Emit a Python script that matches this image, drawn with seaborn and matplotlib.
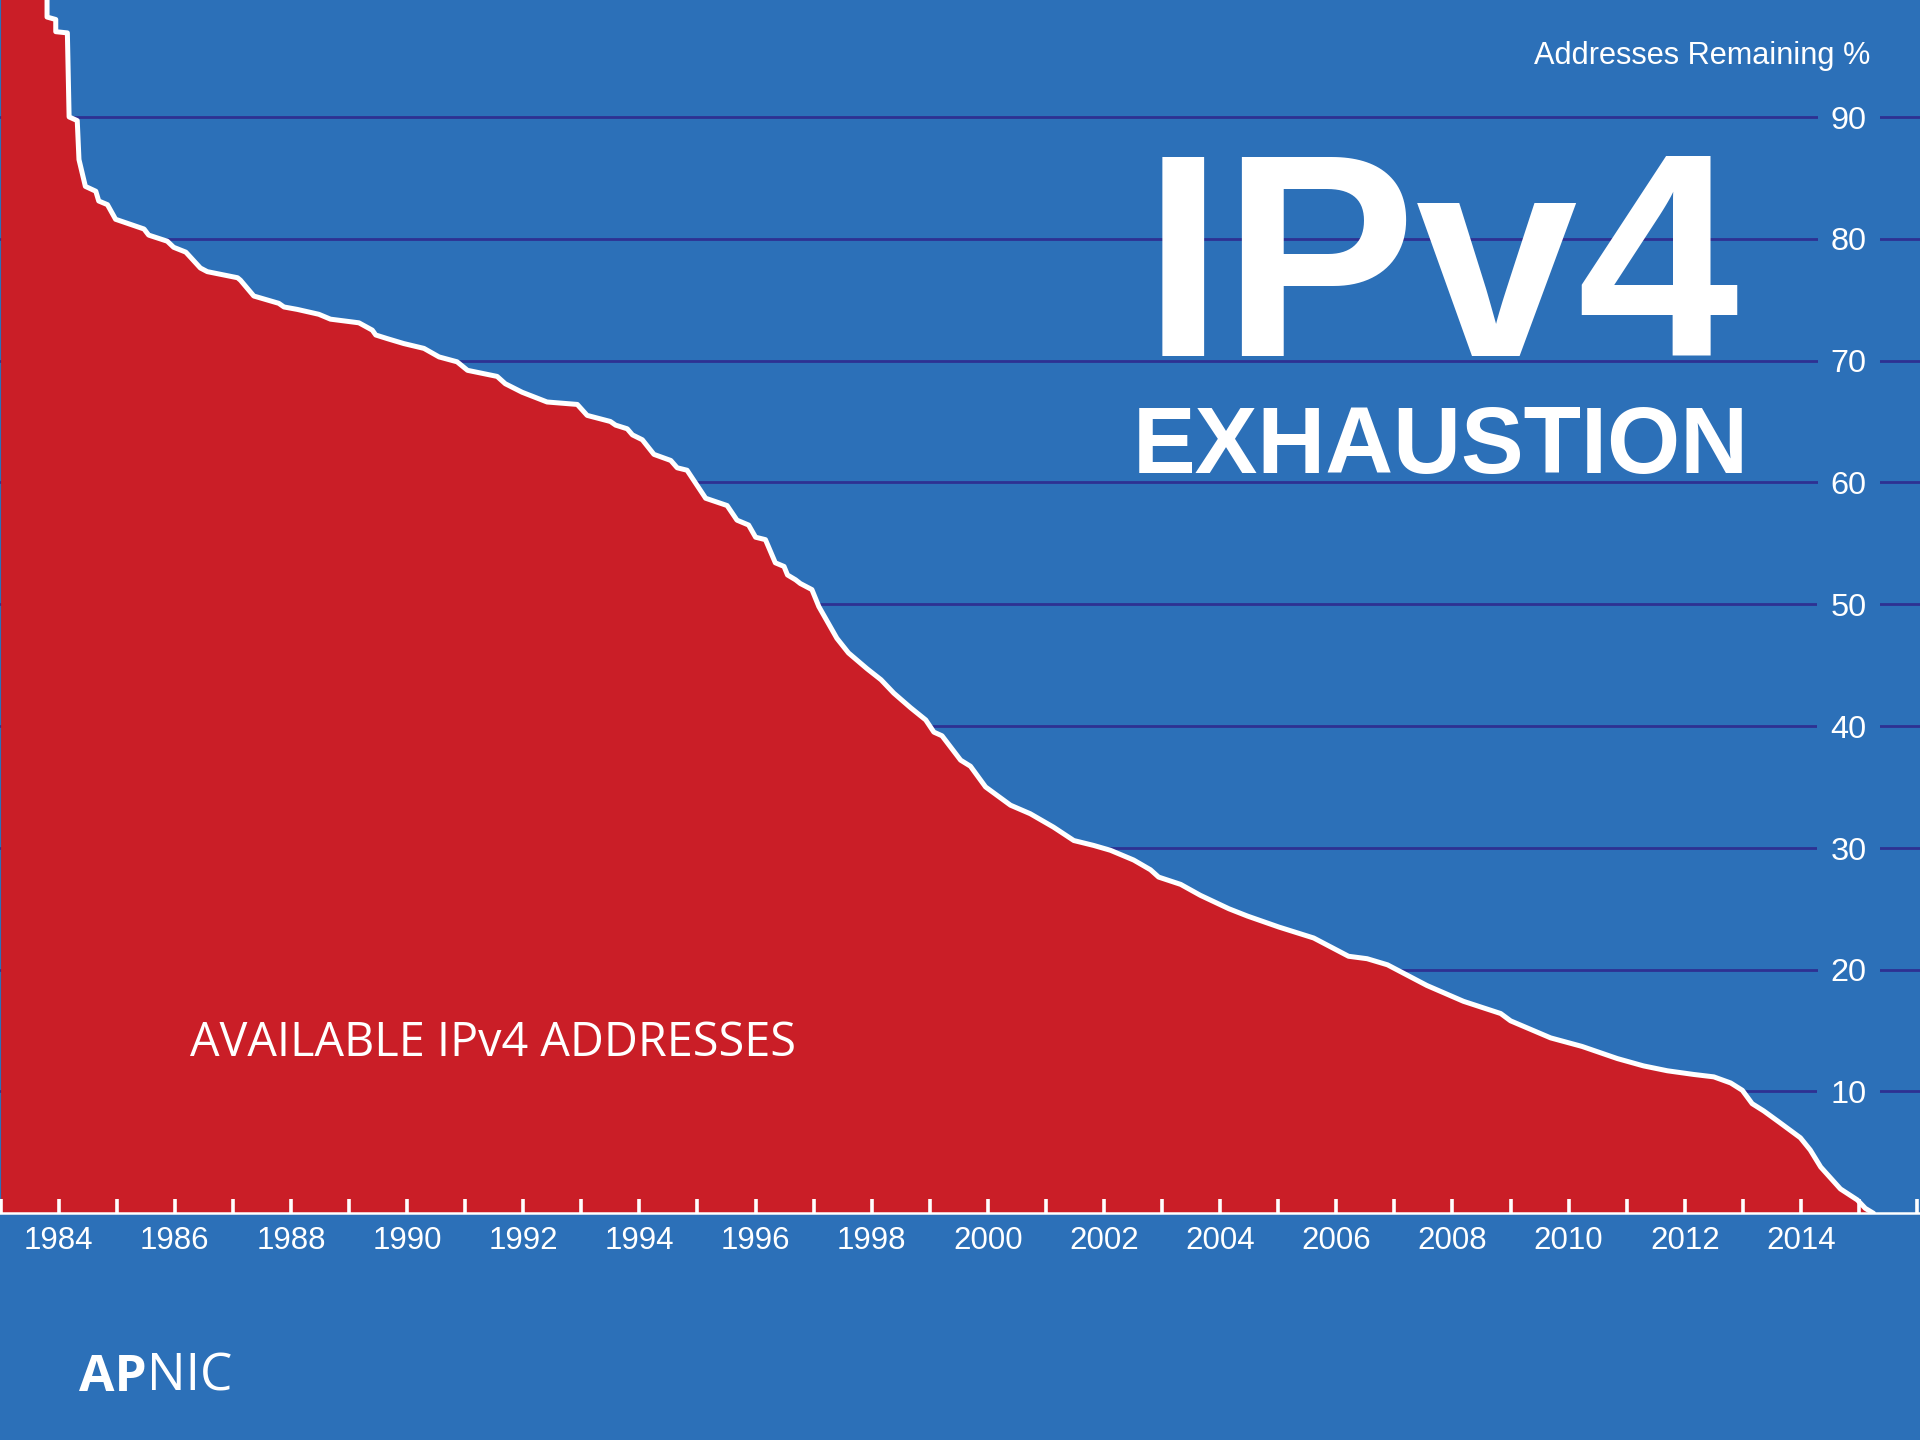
import matplotlib
matplotlib.use("Agg")
import matplotlib.pyplot as plt
import matplotlib.transforms as mtransforms
from matplotlib import font_manager as fm
from matplotlib.text import Annotation
import pandas as pd
import seaborn as sns

# ---------------- data ----------------
years = [1983.00, 1983.80, 1983.80, 1983.95, 1983.95, 1984.15, 1984.18, 1984.32, 1984.35, 1984.46,
         1984.64, 1984.69, 1984.84, 1984.98, 1985.47, 1985.55, 1985.87, 1985.98, 1986.19, 1986.44,
         1986.56, 1987.08, 1987.13, 1987.36, 1987.79, 1987.88, 1988.11, 1988.48, 1988.68, 1989.17,
         1989.40, 1989.46, 1989.66, 1989.94, 1990.29, 1990.55, 1990.86, 1991.04, 1991.55, 1991.69,
         1991.98, 1992.41, 1992.93, 1993.10, 1993.50, 1993.59, 1993.79, 1993.88, 1994.05, 1994.25,
         1994.54, 1994.65, 1994.82, 1995.14, 1995.51, 1995.68, 1995.88, 1996.00, 1996.17, 1996.34,
         1996.49, 1996.55, 1996.69, 1996.77, 1996.97, 1997.09, 1997.40, 1997.60, 1997.92, 1998.16,
         1998.38, 1998.67, 1998.93, 1999.07, 1999.21, 1999.53, 1999.70, 1999.96, 2000.39, 2000.73,
         2001.13, 2001.48, 2001.82, 2002.11, 2002.51, 2002.80, 2002.94, 2003.32, 2003.66, 2004.15,
         2004.47, 2005.01, 2005.61, 2006.21, 2006.53, 2006.88, 2007.56, 2008.19, 2008.83, 2009.00,
         2009.69, 2010.23, 2010.84, 2011.29, 2011.70, 2012.15, 2012.50, 2012.79, 2012.99, 2013.16,
         2013.36, 2013.62, 2013.99, 2014.16, 2014.34, 2014.68, 2014.97, 2015.11, 2015.25]
remaining_pct = [101.0, 101.0, 98.2, 98.0, 97.0, 96.9, 90.0, 89.7, 86.5, 84.3,
                 83.9, 83.1, 82.8, 81.6, 80.8, 80.3, 79.8, 79.3, 78.9, 77.6,
                 77.3, 76.8, 76.6, 75.3, 74.7, 74.4, 74.2, 73.8, 73.4, 73.1,
                 72.5, 72.1, 71.8, 71.4, 71.0, 70.3, 69.9, 69.2, 68.7, 68.1,
                 67.4, 66.6, 66.4, 65.5, 65.0, 64.7, 64.4, 63.9, 63.5, 62.3,
                 61.8, 61.2, 61.0, 58.7, 58.1, 56.9, 56.5, 55.5, 55.3, 53.4,
                 53.1, 52.4, 52.0, 51.7, 51.2, 49.8, 47.2, 46.0, 44.7, 43.8,
                 42.7, 41.5, 40.5, 39.5, 39.2, 37.2, 36.7, 35.0, 33.5, 32.8,
                 31.7, 30.6, 30.2, 29.8, 29.0, 28.2, 27.6, 27.0, 26.1, 25.0,
                 24.4, 23.5, 22.6, 21.1, 20.9, 20.4, 18.7, 17.4, 16.4, 15.8,
                 14.4, 13.7, 12.7, 12.1, 11.7, 11.4, 11.2, 10.7, 10.1, 9.0,
                 8.4, 7.5, 6.2, 5.2, 3.8, 2.0, 1.1, 0.4, 0.0]
y_ticks = [10, 20, 30, 40, 50, 60, 70, 80, 90]
x_tick_years = list(range(1983, 2017))
x_label_years = list(range(1984, 2015, 2))

title_main = "IPv4"
title_sub = "EXHAUSTION"
axis_title = "Addresses Remaining %"
area_label = "AVAILABLE IPv4 ADDRESSES"

# ---------------- style ----------------
BLUE = "#2C70B8"
RED = "#CA1E27"
NAVY = "#2E3192"

sns.set_theme(style="white")
installed = {f.name for f in fm.fontManager.ttflist}


def pick(*names):
    for n in names:
        if n in installed:
            return n
    return "DejaVu Sans"


ARIAL = pick("Liberation Sans", "Arial")
NARROW = pick("Liberation Sans Narrow", "Liberation Sans")
HUMAN = pick("Open Sans", "Noto Sans", "Lato")
plt.rcParams["font.family"] = [ARIAL, "DejaVu Sans"]

W, H = 1920, 1440
fig = plt.figure(figsize=(19.2, 14.4), dpi=100, facecolor=BLUE)
ax = fig.add_axes([0, (H - 1213.3) / H, 1, 1213.3 / H])
ax.set_facecolor(BLUE)

df = pd.DataFrame({"year": years, "pct": remaining_pct})

for v in y_ticks:
    ax.axhline(v, color=NAVY, lw=2.0, zorder=1)

ax.fill_between(df["year"], df["pct"], 0, color=RED, lw=0, zorder=2)
sns.lineplot(data=df, x="year", y="pct", estimator=None, sort=False,
             color="white", lw=3.6, ax=ax, zorder=4)

ax.set_xlim(1982.99, 2016.05)
ax.set_ylim(0, 99.6)
ax.set_xlabel("")
ax.set_ylabel("")
ax.grid(False)
for s in ["left", "right", "top"]:
    ax.spines[s].set_visible(False)
ax.spines["bottom"].set_color("white")
ax.spines["bottom"].set_linewidth(1.8)
ax.spines["bottom"].set_zorder(5)

ax.set_yticks([])
ax.set_xticks(x_tick_years)
ax.set_xticklabels([str(y) if y in x_label_years else "" for y in x_tick_years])
ax.tick_params(axis="x", bottom=True, direction="in", length=10, width=2.6, color="white",
               labelcolor="white", labelsize=22.5, pad=9, labelfontfamily=NARROW)
ax.xaxis.set_zorder(3)

# right-side value labels, breaking the grid lines
lab_trans = mtransforms.offset_copy(
    mtransforms.blended_transform_factory(ax.transAxes, ax.transData),
    fig=fig, y=-8.4, units="points")
for v in y_ticks:
    ax.text(1848.5 / W, v, str(v), transform=lab_trans, ha="center", va="baseline",
            fontsize=23.4, color="white", family=ARIAL, zorder=3,
            bbox=dict(boxstyle="square,pad=0.4", fc=BLUE, ec="none"))

renderer = fig.canvas.get_renderer()

# titles
t_axis = fig.text(1870 / W, 1 - 64.3 / H, axis_title, ha="right", va="baseline",
                  fontsize=26, color="white", family=NARROW)
w = t_axis.get_window_extent(renderer).width
t_axis.set_fontsize(min(26, 26 * 336 / w))

fig.text(1441 / W, 1 - 356.5 / H, title_main, ha="center", va="baseline",
         fontsize=209, color="white", weight="bold", family=ARIAL)
fig.text(1441 / W, 1 - 473.5 / H, title_sub, ha="center", va="baseline",
         fontsize=67.7, color="white", weight="bold", family=ARIAL)

t_area = fig.text(190 / W, 1 - 1055.5 / H, area_label, ha="left", va="baseline",
                  fontsize=33, color="white", family=HUMAN)
w = t_area.get_window_extent(renderer).width
t_area.set_fontsize(min(34, 33 * 606 / w))

# logo
t_ap = fig.text(79.4 / W, 1 - 1390.7 / H, "AP", ha="left", va="baseline",
                fontsize=37, color="white", weight="bold", family=HUMAN)
nic = Annotation("NIC", xy=(1, 0), xycoords=t_ap, ha="left", va="bottom",
                 fontsize=37, color="white", family=HUMAN)
fig.add_artist(nic)

fig.savefig("out.png", dpi=100, facecolor=BLUE)
